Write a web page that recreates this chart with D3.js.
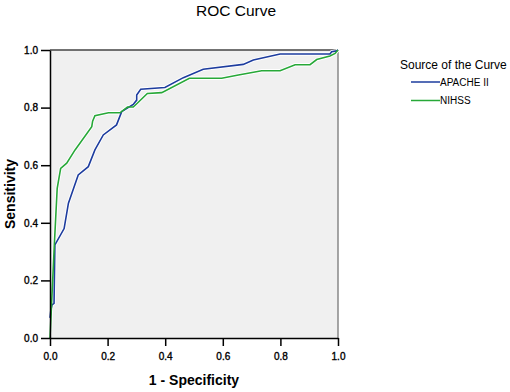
<!DOCTYPE html>
<html>
<head>
<meta charset="utf-8" />
<title>ROC Curve</title>
<script src="https://cdnjs.cloudflare.com/ajax/libs/d3/7.8.5/d3.min.js"></script>
<style>
  body { margin: 0; background: #fff; }
  svg { font-family: "Liberation Sans", Arial, sans-serif; }
</style>
</head>
<body>
<svg id="chart" width="510" height="392"></svg>
<script>
// values: [1 - specificity, sensitivity]
const apache = [
  [0, 0.07], [0.003, 0.097], [0.007, 0.115], [0.014, 0.12], [0.017, 0.323],
  [0.049, 0.38], [0.064, 0.468], [0.098, 0.566], [0.133, 0.595], [0.156, 0.653],
  [0.185, 0.705], [0.231, 0.74], [0.249, 0.786], [0.289, 0.811], [0.301, 0.826],
  [0.301, 0.844], [0.315, 0.864], [0.399, 0.87], [0.463, 0.904], [0.532, 0.933],
  [0.671, 0.95], [0.706, 0.965], [0.799, 0.986], [0.972, 0.986], [0.978, 0.994],
  [0.995, 0.997], [1, 1]
]
const nihss = [
  [0, 0], [0.015, 0.323], [0.025, 0.52], [0.037, 0.589], [0.058, 0.607],
  [0.087, 0.653], [0.145, 0.734], [0.148, 0.753], [0.156, 0.772], [0.203, 0.782],
  [0.243, 0.782], [0.269, 0.802], [0.289, 0.802], [0.303, 0.815], [0.338, 0.849],
  [0.388, 0.852], [0.484, 0.902], [0.596, 0.902], [0.654, 0.913], [0.735, 0.928],
  [0.799, 0.928], [0.851, 0.949], [0.903, 0.949], [0.926, 0.967], [0.972, 0.979],
  [0.99, 0.988], [1, 1]
]
const seriesNames = ['APACHE II', 'NIHSS']
const seriesColors = ['#1d3c9e', '#27a838']
const tickValues = [0, 0.2, 0.4, 0.6, 0.8, 1.0]

const svg = d3.select('#chart')
const x = d3.scaleLinear().domain([0, 1]).range([50, 338])
const y = d3.scaleLinear().domain([0, 1]).range([338, 50])

// plot background and frame
svg.append('rect')
  .attr('x', x(0)).attr('y', y(1))
  .attr('width', x(1) - x(0)).attr('height', y(0) - y(1))
  .style('fill', '#f0f0f0')
svg.append('line')
  .attr('x1', x(0)).attr('x2', x(1)).attr('y1', y(1)).attr('y2', y(1))
  .style('stroke', '#444').style('stroke-width', 1.5)
svg.append('line')
  .attr('x1', x(1)).attr('x2', x(1)).attr('y1', y(1)).attr('y2', y(0))
  .style('stroke', '#888').style('stroke-width', 1.5)

// curves, white halo underneath like the SPSS output
const line = d3.line().x(d => x(d[0])).y(d => y(d[1]))
const series = [apache, nihss]
series.forEach(function(s, i) {
  svg.append('path').datum(s).attr('d', line)
    .style('fill', 'none').style('stroke', '#fff').style('stroke-width', 3.4)
})
series.forEach(function(s, i) {
  svg.append('path').datum(s).attr('d', line)
    .style('fill', 'none').style('stroke', seriesColors[i]).style('stroke-width', 1.6)
})

// axes
const xAxis = d3.axisBottom(x).tickValues(tickValues).tickFormat(d3.format('.1f')).tickSize(8).tickSizeOuter(0)
const yAxis = d3.axisLeft(y).tickValues(tickValues).tickFormat(d3.format('.1f')).tickSize(9).tickSizeOuter(0)
const gx = svg.append('g').attr('transform', 'translate(0,' + y(0) + ')').call(xAxis)
const gy = svg.append('g').attr('transform', 'translate(' + x(0) + ',0)').call(yAxis)
;[gx, gy].forEach(function(g) {
  g.selectAll('path').style('stroke', '#000').style('stroke-width', 1.5)
  g.selectAll('line').style('stroke', '#000').style('stroke-width', 1.5)
  g.selectAll('text').style('font-size', '10px').style('fill', '#000')
    .style('stroke', '#000').style('stroke-width', 0.35)
    .style('font-family', '"Liberation Sans", Arial, sans-serif')
})
gx.selectAll('text').attr('dy', '1.05em')
gy.selectAll('text').attr('x', -12)

// titles
svg.append('text').attr('x', 236).attr('y', 16).attr('text-anchor', 'middle')
  .style('font-size', '15.5px').text('ROC Curve')
svg.append('text').attr('x', 194).attr('y', 385).attr('text-anchor', 'middle')
  .style('font-size', '14px').style('font-weight', 'bold').text('1 - Specificity')
svg.append('text').attr('transform', 'translate(15,194) rotate(-90)').attr('text-anchor', 'middle')
  .style('font-size', '14px').style('font-weight', 'bold').text('Sensitivity')

// legend
const legend = svg.append('g').attr('transform', 'translate(400,0)')
legend.append('text').attr('x', 0).attr('y', 69).style('font-size', '12px').text('Source of the Curve')
seriesNames.forEach(function(name, i) {
  const ly = 82 + i * 18.5
  legend.append('line').attr('x1', 11).attr('x2', 40).attr('y1', ly).attr('y2', ly)
    .style('stroke', seriesColors[i]).style('stroke-width', 1.5)
  legend.append('text').attr('x', 40).attr('y', ly + 3.5).style('font-size', '10px').text(name)
})
</script>
</body>
</html>
